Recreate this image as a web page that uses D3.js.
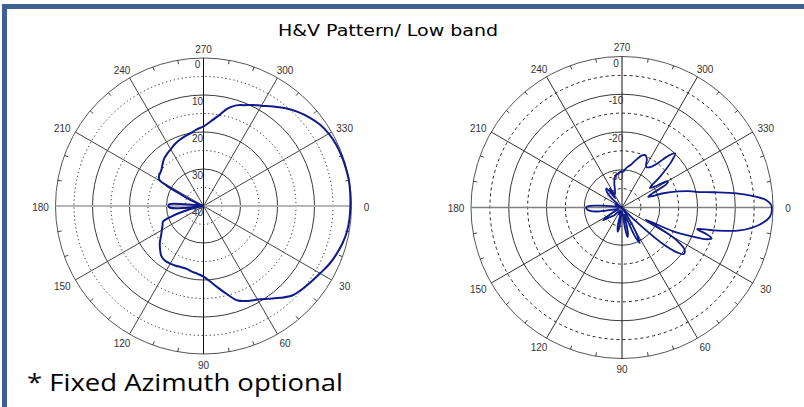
<!DOCTYPE html>
<html><head><meta charset="utf-8">
<script src="https://cdn.jsdelivr.net/npm/d3@7"></script>
<style>html,body{margin:0;padding:0;background:#fff;}svg{display:block;}</style>
</head><body>
<svg id="chart" width="804" height="407"></svg>
<script>
// ---------- data ----------
const titleText = "H&V Pattern/ Low band";
const footText = "* Fixed Azimuth optional";
const angleTicks = [0, 30, 60, 90, 120, 150, 180, 210, 240, 270, 300, 330];
const solidRings = [0, -10, -20, -30];
const dashedRings = [-5, -15, -25, -35];
const leftRingLabels = ["0", "10", "20", "30", "40"];
const rightRingLabels = ["0", "-10", "-20", "-30"];
const ringLabelLevels = [0, -10, -20, -30, -40];

// Left chart (horizontal pattern): angle in degrees, gain in dB
const leftAngles = [0,5,10,15,20,25,30,35,40,45,50,55,60,65,70,75,80,85,90,95,100,105,110,115,120,125,130,135,140,145,150,155,159,162,165,168,171,174,177,180,183,186,189,195,200,204,207,209,211,215,220,225,230,235,240,245,250,255,260,265,270,275,280,284,288,292,296,300,305,310,315,320,325,330,335,340,345,350,355];
const leftDb = [-0.3,-0.4,-0.6,-1.1,-1.8,-2.6,-3.6,-4.4,-5.1,-5.9,-7.6,-9.4,-10.8,-11.7,-12.8,-15.3,-17.6,-19.5,-20.9,-21.6,-22.0,-22.4,-22.4,-22.2,-22.0,-21.9,-22.3,-23.4,-24.6,-26.0,-27.0,-27.8,-28.3,-31,-34.5,-38,-40,-35,-31,-30.5,-30.8,-36,-40,-40,-39,-37,-33.5,-28.5,-26,-25.4,-25.1,-24.3,-23.4,-22.8,-22.3,-21.6,-21.0,-20.5,-20.0,-19.2,-18.5,-17.0,-15.0,-12.8,-11.4,-10.6,-9.6,-8.7,-7.2,-5.5,-4.0,-2.7,-1.6,-0.9,-0.5,-0.3,-0.2,-0.1,-0.2];

// Right chart (vertical pattern)
const rightAngles = [0,3.5,7,11,14,16,17.5,19,20.5,22.3,25,27,29,31,34,37,39,41.5,44,48,53,58,61,63.5,66,70,74,77,79.5,82,86,90,94,97,100,103,107,115,125,135,141,146,151,158,165,170,174,178,181,184,188,195,205,215,222,227,231,234,237,242,248,253,258,263,268,272,276,281,286,291,294,297,301,306,309,312,314.5,317,321,325,328,330,332,335,338,341,344,346,348,350.5,353,355,357,359];
const rightDb = [-0.3,-0.7,-3.2,-8.2,-15.0,-19.3,-16.5,-14.9,-16,-19.6,-25,-33,-28,-23,-20,-19.5,-21,-25,-33,-39,-40,-37,-32,-29.5,-32,-38,-37,-33,-32,-35,-39,-38,-38,-35,-33.5,-35,-39,-38,-39,-37,-36,-34,-37,-39,-38,-34,-31.5,-30.6,-30.6,-33,-38,-40,-38,-39,-36,-34,-33.5,-37,-34,-36,-35,-33,-31.5,-31,-30.5,-30.5,-29.5,-28.6,-27,-25.2,-24.8,-25.5,-27.5,-26.6,-24.8,-21.5,-19.9,-22,-27,-31,-29,-26,-26.5,-31,-32.5,-28.4,-24.5,-22,-20,-15.5,-9.4,-5.1,-1.8,-0.5];

// ---------- drawing ----------
const svg = d3.select("#chart");
const frameColor = "#3d6191";
svg.append("rect").attr("x", 2).attr("y", 4).attr("width", 802).attr("height", 5).attr("fill", frameColor);
svg.append("rect").attr("x", 2).attr("y", 4).attr("width", 5).attr("height", 403).attr("fill", frameColor);

svg.append("text").attr("x", 278).attr("y", 36)
  .attr("font-family", "DejaVu Sans, Verdana, sans-serif").attr("font-size", 16)
  .attr("textLength", 220).attr("lengthAdjust", "spacingAndGlyphs")
  .attr("fill", "#000").text(titleText);

svg.append("text").attr("x", 27).attr("y", 390.5)
  .attr("font-family", "Open Sans, Noto Sans, sans-serif").attr("font-size", 24)
  .attr("textLength", 316).attr("lengthAdjust", "spacingAndGlyphs")
  .attr("fill", "#000").text(footText);

function drawPolar(cfg) {
  const { cx, cy, R, angles, dbs, ringDash, ringLabels, hAxisColor, hAxisWidth, spokeColor, curveWidth } = cfg;
  const g = svg.append("g").attr("transform", `translate(${cx},${cy})`);
  const r = d3.scaleLinear().domain([-40, 0]).range([0, R]).clamp(true);
  const rad = d => d * Math.PI / 180;

  // dashed / dotted rings
  g.selectAll(".dr").data(dashedRings).join("circle")
    .attr("r", d => r(d)).attr("fill", "none")
    .attr("stroke", "#222").attr("stroke-width", 1).attr("stroke-dasharray", ringDash);
  // solid rings
  g.selectAll(".sr").data(solidRings).join("circle")
    .attr("r", d => r(d)).attr("fill", "none")
    .attr("stroke", d => d === 0 ? "#555" : "#3a3a3a").attr("stroke-width", 1);

  // spokes
  const spokes = angleTicks.filter(a => a % 90 !== 0);
  g.selectAll(".sp").data(spokes).join("line")
    .attr("x1", 0).attr("y1", 0)
    .attr("x2", a => R * Math.cos(rad(a))).attr("y2", a => R * Math.sin(rad(a)))
    .attr("stroke", spokeColor).attr("stroke-width", 1);
  // horizontal axis
  g.append("line").attr("x1", -R).attr("x2", R).attr("y1", 0).attr("y2", 0)
    .attr("stroke", hAxisColor).attr("stroke-width", hAxisWidth);
  // vertical axis
  g.append("line").attr("x1", 0).attr("x2", 0).attr("y1", -R).attr("y2", R)
    .attr("stroke", "#111").attr("stroke-width", 1);

  // ticks on outer ring every 10 degrees
  const tickAngles = d3.range(0, 360, 10).filter(a => a % 30 !== 0);
  g.selectAll(".tk").data(tickAngles).join("line")
    .attr("x1", a => R * Math.cos(rad(a))).attr("y1", a => R * Math.sin(rad(a)))
    .attr("x2", a => (R - 4) * Math.cos(rad(a))).attr("y2", a => (R - 4) * Math.sin(rad(a)))
    .attr("stroke", "#444").attr("stroke-width", 1);

  // angle labels
  g.selectAll(".al").data(angleTicks).join("text")
    .attr("x", a => (R + 10) * Math.cos(rad(a)) + 5 * Math.cos(rad(a)))
    .attr("y", a => (R + 10) * Math.sin(rad(a)) + 1)
    .attr("text-anchor", "middle").attr("dominant-baseline", "central")
    .attr("font-family", "Liberation Sans Narrow, Arial Narrow, Liberation Sans, sans-serif")
    .attr("font-size", 10).attr("fill", "#333")
    .text(a => a);

  // ring labels
  g.selectAll(".rl").data(ringLabels).join("text")
    .attr("x", -6)
    .attr("y", (d, i) => -r(ringLabelLevels[i]) + 6.5)
    .attr("text-anchor", "middle").attr("dominant-baseline", "central")
    .attr("font-family", "Liberation Sans Narrow, Arial Narrow, Liberation Sans, sans-serif")
    .attr("font-size", 10).attr("fill", "#333")
    .text(d => d);

  // pattern curve
  const pts = angles.map((a, i) => [rad(a + 90), r(dbs[i])]);
  const line = d3.lineRadial().curve(d3.curveCatmullRomClosed.alpha(0.5));
  g.append("path").attr("d", line(pts)).attr("fill", "none")
    .attr("stroke", "#0e1a8c").attr("stroke-width", curveWidth).attr("stroke-linejoin", "round");
}

drawPolar({ cx: 203.5, cy: 206, R: 148, angles: leftAngles, dbs: leftDb,
  ringDash: "1.2,2.8", ringLabels: leftRingLabels, hAxisColor: "#b5b5b5", hAxisWidth: 2,
  spokeColor: "#444", curveWidth: 2 });
drawPolar({ cx: 622, cy: 207.5, R: 151, angles: rightAngles, dbs: rightDb,
  ringDash: "3,3", ringLabels: rightRingLabels, hAxisColor: "#808080", hAxisWidth: 1.5,
  spokeColor: "#333", curveWidth: 1.8 });
</script>
</body></html>
